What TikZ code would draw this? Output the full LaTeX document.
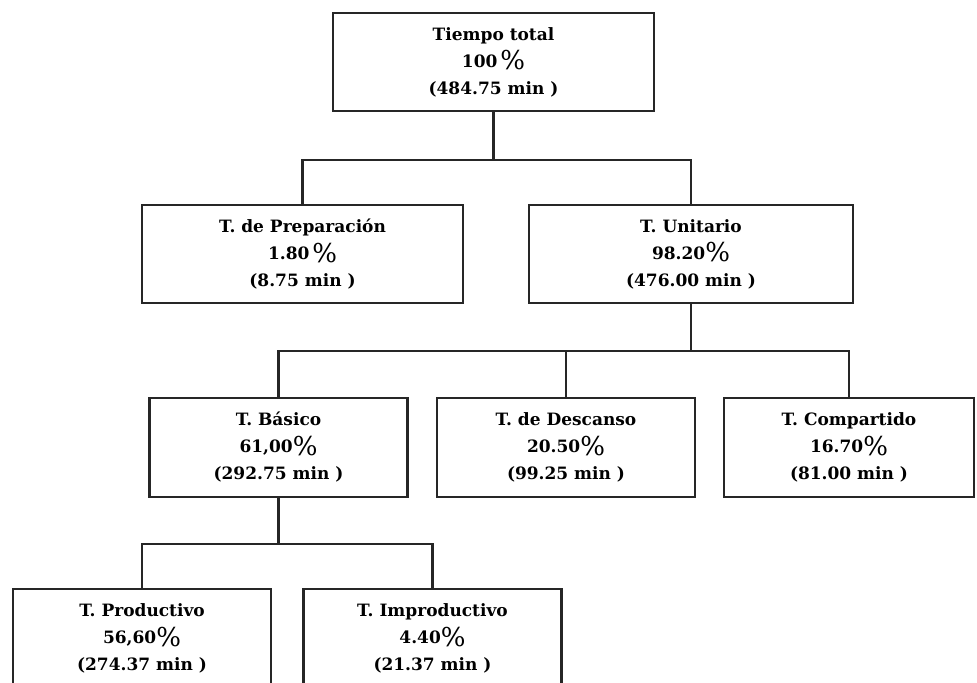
\documentclass[tikz,border=0pt]{standalone}
\usepackage{fontspec}
\setmainfont{DejaVu Serif}
\newcommand\pct{\smash{\raisebox{-0.3ex}{\fontsize{13}{13}\selectfont\mdseries\%}}}

\begin{document}
\begin{tikzpicture}[x=0.5pt,y=-0.5pt,
    tbox/.style={draw=black!85,line width=1.1pt,align=center,inner sep=0pt,
      minimum height=49pt,font=\fontsize{8.5}{13.5}\selectfont\bfseries},
    link/.style={draw=black!85,line width=1.1pt}]
  \pgfmathsetmacro\wtop{160.5}  % width of upper boxes (pt)
  \pgfmathsetmacro\wlow{129}    % width of lower boxes (pt)
  \clip (0,0) rectangle (977,683);
  \fill[white] (0,0) rectangle (977,683);

% total time and its two parts
  \node[tbox,minimum width=\wtop pt] (total) at (493.5,62) {Tiempo total\\100\,\pct\\(484.75 min )};
  \node[tbox,minimum width=\wtop pt] (prep) at (302.5,254) {T. de Preparación\\1.80\,\pct\\(8.75 min )};
  \node[tbox,minimum width=162pt] (unit) at (691,254) {T. Unitario\\98.20\pct\\(476.00 min )};

% parts of the unit time
  \node[tbox,minimum width=\wlow pt,minimum height=49.5pt] (basico) at (278.5,447.5) {T. Básico\\61,00\pct\\(292.75 min )};
  \node[tbox,minimum width=\wlow pt,minimum height=49.5pt] (desc) at (566,447.5) {T. de Descanso\\20.50\pct\\(99.25 min )};
  \node[tbox,minimum width=125pt,minimum height=49.5pt] (comp) at (849,447.5) {T. Compartido\\16.70\pct\\(81.00 min )};

% parts of the basic time
  \node[tbox,minimum width=\wlow pt,minimum height=49.5pt] (prod) at (142,638.5) {T. Productivo\\56,60\pct\\(274.37 min )};
  \node[tbox,minimum width=\wlow pt,minimum height=49.5pt] (improd) at (432.5,638.5) {T. Improductivo\\4.40\pct\\(21.37 min )};

  \draw[link] (total.south) -- ++(0,48) -| (prep.north);
  \draw[link] (total.south) -- ++(0,48) -| (unit.north);
  \draw[link] (unit.south) -- ++(0,47) -| (basico.north);
  \draw[link] (unit.south) -- ++(0,47) -| (desc.north);
  \draw[link] (unit.south) -- ++(0,47) -| (comp.north);
  \draw[link] (basico.south) -- ++(0,46) -| (prod.north);
  \draw[link] (basico.south) -- ++(0,46) -| (improd.north);
\end{tikzpicture}
\end{document}
